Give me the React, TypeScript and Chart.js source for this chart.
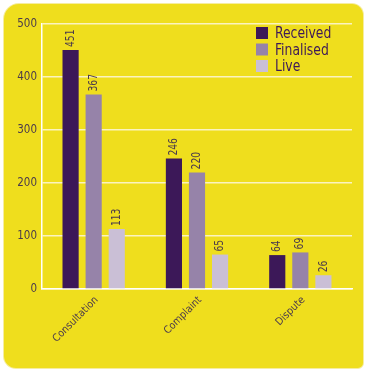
import React, { useEffect, useRef } from "react";
import { Chart, registerables } from "chart.js";

Chart.register(...registerables);

const categories = ["Consultation", "Complaint", "Dispute"];
const seriesNames = ["Received", "Finalised", "Live"];
const received = [451, 246, 64];
const finalised = [367, 220, 69];
const live = [113, 65, 26];
const yTicks = [0, 100, 200, 300, 400, 500];

const COLORS = ["#3c1858", "#9683a9", "#cabfd6"];
const TEXT = "#4a3a4c";
const FONT = '"Liberation Sans Narrow", "DejaVu Sans Condensed", "Roboto", sans-serif';

const valueLabels = {
  id: "valueLabels",
  afterDatasetsDraw(chart: any) {
    const ctx = chart.ctx;
    ctx.save();
    ctx.fillStyle = TEXT;
    ctx.font = `12px ${FONT}`;
    ctx.textAlign = "left";
    ctx.textBaseline = "middle";
    chart.data.datasets.forEach((ds: any, i: number) => {
      const meta = chart.getDatasetMeta(i);
      meta.data.forEach((bar: any, j: number) => {
        ctx.save();
        ctx.translate(bar.x, bar.y - 3);
        ctx.rotate(-Math.PI / 2);
        ctx.scale(0.85, 1);
        ctx.fillText(String(ds.data[j]), 0, 0);
        ctx.restore();
      });
    });
    ctx.restore();
  },
};

const customLegend = {
  id: "customLegend",
  afterDraw(chart: any) {
    const ctx = chart.ctx;
    const area = chart.chartArea;
    const x0 = area.right - 96;
    const y0 = area.top + 3;
    ctx.save();
    ctx.font = `16px ${FONT}`;
    ctx.textAlign = "left";
    ctx.textBaseline = "middle";
    chart.data.datasets.forEach((ds: any, i: number) => {
      const y = y0 + i * 16.5;
      ctx.fillStyle = ds.backgroundColor;
      ctx.fillRect(x0, y, 12, 12);
      ctx.fillStyle = "#3c1858";
      ctx.save();
      ctx.translate(x0 + 19, y + 7);
      ctx.scale(0.86, 1);
      ctx.fillText(ds.label, 0, 0);
      ctx.restore();
    });
    ctx.restore();
  },
};

export default function App() {
  const ref = useRef<HTMLCanvasElement | null>(null);
  useEffect(() => {
    if (!ref.current) return;
    const data = [received, finalised, live];
    const chart = new Chart(ref.current, {
      type: "bar",
      data: {
        labels: categories,
        datasets: seriesNames.map((name, i) => ({
          label: name,
          data: data[i],
          backgroundColor: COLORS[i],
          borderWidth: 0,
          categoryPercentage: 0.67,
          barPercentage: 0.7,
        })),
      },
      options: {
        animation: false,
        responsive: false,
        maintainAspectRatio: false,
        layout: { padding: { top: 24, right: 14, left: 0, bottom: 0 } },
        plugins: { legend: { display: false }, tooltip: { enabled: false } },
        scales: {
          x: {
            grid: { display: false, drawTicks: false },
            border: { color: "#ffffff", width: 1.5 },
            ticks: {
              color: TEXT,
              font: { family: FONT, size: 10.5 },
              minRotation: 45,
              maxRotation: 45,
              padding: 5,
              labelOffset: 3,
            },
            afterFit: (s: any) => {
              s.height = 80;
            },
          },
          y: {
            min: 0,
            max: 500,
            afterBuildTicks: (s: any) => {
              s.ticks = yTicks.map((v) => ({ value: v }));
            },
            grid: { color: "#fbf3c0", lineWidth: 1.5, drawTicks: false },
            border: { color: "#ffffff", width: 1.5 },
            ticks: {
              color: TEXT,
              font: { family: FONT, size: 11.5 },
              padding: 5,
            },
            afterFit: (s: any) => {
              s.width = 42;
            },
          },
        },
      },
      plugins: [valueLabels, customLegend],
    });
    return () => chart.destroy();
  }, []);

  return (
    <div style={{ position: "fixed", left: 0, top: 0, width: 366, height: 369, background: "#ffffff" }}>
      <div
        style={{
          position: "absolute",
          left: 4,
          top: 4,
          width: 359,
          height: 364,
          background: "#efde1d",
          borderRadius: "15px 11px 5px 12px",
          boxShadow: "0 0 0 1px #f6eda0",
        }}
      />
      <canvas ref={ref} width={366} height={369} style={{ position: "absolute", left: 0, top: 0 }} />
    </div>
  );
}
